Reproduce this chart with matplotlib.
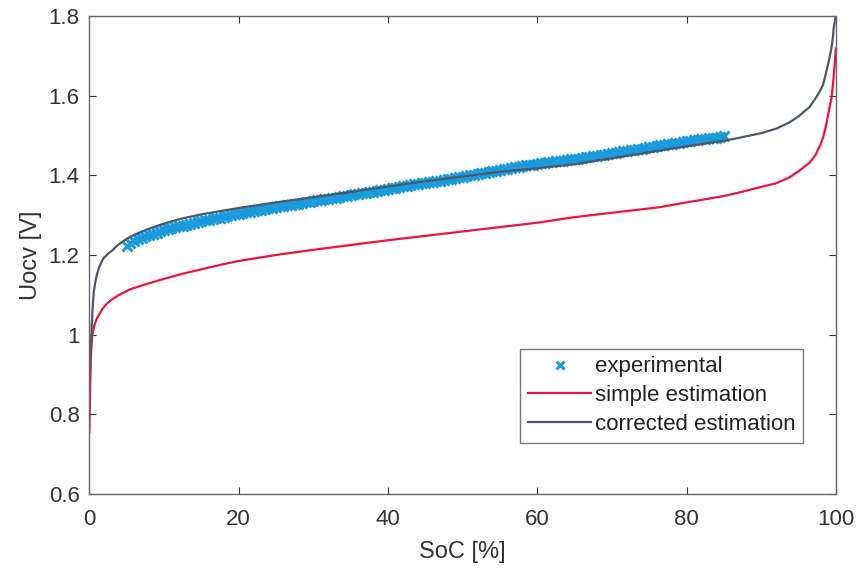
import matplotlib
matplotlib.use("Agg")
import matplotlib.pyplot as plt
import numpy as np

# ---- data ----
soc_corr = [0, 0.05, 0.15, 0.25, 0.33, 0.45, 0.6, 0.8, 1.0, 1.3, 1.6, 1.9, 2.5, 3.1, 3.7,
            4.4, 5.5, 6.8, 8, 10, 12.5, 15, 17.5, 20, 25, 30, 35, 40, 45, 50, 55, 60, 65,
            70, 75, 80, 85, 87, 90, 92, 93.8, 95, 96.5, 97.3, 97.9, 98.3, 98.7, 99.1, 99.4,
            99.6, 99.7, 99.85, 100]
u_corr = [0.888, 0.915, 0.943, 0.99, 1.025, 1.07, 1.107, 1.132, 1.15, 1.168, 1.181, 1.192,
          1.203, 1.212, 1.223, 1.233, 1.246, 1.257, 1.266, 1.279, 1.292, 1.302, 1.31, 1.318,
          1.332, 1.345, 1.358, 1.372, 1.385, 1.397, 1.409, 1.418, 1.428, 1.443, 1.458,
          1.473, 1.487, 1.494, 1.506, 1.517, 1.533, 1.548, 1.572, 1.594, 1.612, 1.628,
          1.658, 1.69, 1.718, 1.745, 1.768, 1.785, 1.8]

soc_simple = [0, 0.05, 0.1, 0.2, 0.3, 0.4, 0.7, 1.0, 1.3, 1.7, 2.2, 3.0, 4.0, 5.5, 7.3, 10,
              12.5, 15, 17.5, 20, 25, 30, 35, 40, 45, 50, 55, 60, 65, 70, 76.4, 80, 85, 87.1,
              89.8, 92, 93.8, 95, 96.5, 97.3, 97.9, 98.3, 98.7, 99.1, 99.4, 99.6, 99.8,
              99.9, 100]
u_simple = [0.755, 0.8, 0.86, 0.943, 0.975, 1.0, 1.025, 1.04, 1.05, 1.063, 1.075, 1.088,
            1.1, 1.114, 1.125, 1.14, 1.153, 1.164, 1.175, 1.185, 1.2, 1.213, 1.225, 1.237,
            1.248, 1.259, 1.27, 1.281, 1.295, 1.306, 1.32, 1.332, 1.348, 1.357, 1.37, 1.38,
            1.395, 1.41, 1.432, 1.452, 1.475, 1.495, 1.525, 1.565, 1.592, 1.625, 1.667,
            1.69, 1.718]

soc_exp = np.arange(5.0, 85.01, 0.5)
u_exp = [1.222, 1.230, 1.236, 1.240, 1.243, 1.247, 1.250, 1.253, 1.256, 1.259,
         1.262, 1.265, 1.267, 1.270, 1.272, 1.274, 1.276, 1.279, 1.281, 1.283,
         1.285, 1.287, 1.289, 1.291, 1.292, 1.294, 1.296, 1.298, 1.300, 1.302,
         1.304, 1.305, 1.307, 1.309, 1.311, 1.312, 1.314, 1.316, 1.317, 1.319,
         1.320, 1.322, 1.323, 1.325, 1.326, 1.328, 1.329, 1.331, 1.332, 1.334,
         1.335, 1.337, 1.338, 1.340, 1.341, 1.343, 1.344, 1.346, 1.347, 1.349,
         1.350, 1.352, 1.353, 1.355, 1.356, 1.358, 1.359, 1.361, 1.362, 1.364,
         1.366, 1.368, 1.369, 1.371, 1.372, 1.374, 1.375, 1.377, 1.378, 1.380,
         1.381, 1.383, 1.384, 1.386, 1.387, 1.389, 1.390, 1.392, 1.393, 1.395,
         1.397, 1.399, 1.400, 1.402, 1.404, 1.406, 1.407, 1.409, 1.410, 1.412,
         1.413, 1.415, 1.416, 1.418, 1.420, 1.422, 1.423, 1.425, 1.426, 1.427,
         1.428, 1.430, 1.431, 1.433, 1.434, 1.435, 1.436, 1.437, 1.438, 1.440,
         1.441, 1.442, 1.443, 1.445, 1.446, 1.448, 1.449, 1.451, 1.452, 1.454,
         1.455, 1.457, 1.458, 1.460, 1.461, 1.463, 1.464, 1.466, 1.467, 1.469,
         1.470, 1.472, 1.473, 1.475, 1.476, 1.478, 1.479, 1.481, 1.482, 1.484,
         1.485, 1.487, 1.488, 1.489, 1.490, 1.492, 1.493, 1.494, 1.495, 1.497,
         1.498]

xticks = [0, 20, 40, 60, 80, 100]
yticks = [0.6, 0.8, 1.0, 1.2, 1.4, 1.6, 1.8]
ytick_labels = ["0.6", "0.8", "1", "1.2", "1.4", "1.6", "1.8"]

plt.rcParams['font.family'] = ['Liberation Sans', 'DejaVu Sans']

fig = plt.figure(figsize=(8.59, 5.73), dpi=100)
ax = fig.add_axes([0.104, 0.138, 0.869, 0.834])

c_exp = '#1a9bdb'
c_simple = '#e8163f'
c_corr = '#4a5868'

ax.plot(soc_exp, u_exp, linestyle='none', marker='x', ms=7, mew=2.2, color=c_exp,
        label='experimental')
ax.plot(soc_simple, u_simple, color=c_simple, lw=1.6, label='simple estimation')
ax.plot(soc_corr, u_corr, color=c_corr, lw=1.6, label='corrected estimation')

ax.set_xlim(0, 100)
ax.set_ylim(0.6, 1.8)
ax.set_xticks(xticks)
ax.set_yticks(yticks)
ax.set_yticklabels(ytick_labels)
ax.tick_params(direction='in', length=5, width=0.8, top=True, right=True,
               labelsize=16, colors='#333333')
ax.tick_params(axis='x', pad=11)
ax.tick_params(axis='y', pad=7)
for s in ax.spines.values():
    s.set_color('#666666')
    s.set_linewidth(1.0)

ax.set_xlabel('SoC [%]', fontsize=17, color='#333333', labelpad=8)
ax.set_ylabel('Uocv [V]', fontsize=17, color='#333333', labelpad=5)

leg = ax.legend(loc='lower right', bbox_to_anchor=(0.956, 0.107), fontsize=16,
                handlelength=2.85, handletextpad=0.15, borderpad=0.35, labelspacing=0.35,
                borderaxespad=0.0,
                fancybox=False, framealpha=1, edgecolor='#777777',
                markerscale=0.8)
leg.get_frame().set_linewidth(1.0)
for t in leg.get_texts():
    t.set_color('#222222')

fig.savefig('out.png', dpi=100)
